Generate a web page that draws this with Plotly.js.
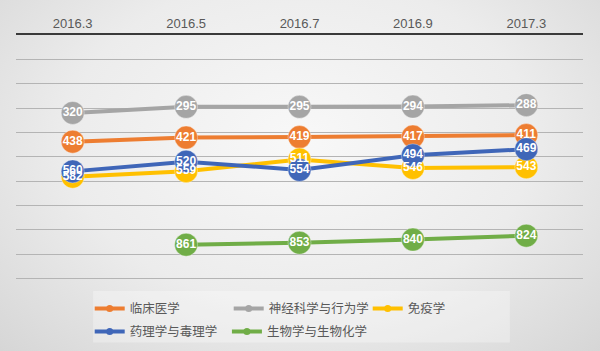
<!DOCTYPE html>
<html><head><meta charset="utf-8">
<script src="https://cdn.plot.ly/plotly-3.0.1.min.js"></script>
<style>
html,body{margin:0;padding:0;}
body{width:600px;height:351px;background:radial-gradient(ellipse at 50% 40%, #f8f8f8 0%, #ececec 55%, #d6d6d6 100%);}
#chart{width:600px;height:351px;}
</style></head><body>
<div id="chart"></div>
<script>
var categories = ['2016.3', '2016.5', '2016.7', '2016.9', '2017.3'];
var seriesNames = ['临床医学', '神经科学与行为学', '免疫学', '药理学与毒理学', '生物学与生物化学'];
var clinical = [438, 421, 419, 417, 411];
var neuro = [320, 295, 295, 294, 288];
var immuno = [582, 559, 511, 546, 543];
var pharma = [560, 520, 554, 494, 469];
var biochem = [null, 861, 853, 840, 824];
var seriesValues = [clinical, neuro, immuno, pharma, biochem];
var colors = ['#ED7D31', '#A5A5A5', '#FFC000', '#3F66B8', '#70AD47'];
var legendRow = ['legend', 'legend', 'legend', 'legend2', 'legend3'];

var traces = [];
var labelFont = 'Liberation Sans Narrow, Arial Narrow, Liberation Sans, sans-serif';
seriesValues.forEach(function(vals, i){
  traces.push({
    x: categories, y: vals, type: 'scatter', mode: 'lines+markers',
    line: {color: colors[i], width: 4},
    marker: {color: colors[i], size: 23, line: {color: 'rgba(255,255,255,0.35)', width: 1}},
    showlegend: false, hoverinfo: 'skip', cliponaxis: false
  });
});
seriesValues.forEach(function(vals, i){
  traces.push({
    x: categories, y: vals, type: 'scatter', mode: 'text',
    text: vals.map(function(v){ return v === null ? '' : String(v); }),
    textposition: 'middle center',
    textfont: {color: '#ffffff', size: 12, family: labelFont, weight: 'bold'},
    showlegend: false, hoverinfo: 'skip', cliponaxis: false
  });
});
seriesNames.forEach(function(name, i){
  traces.push({
    x: [null], y: [null], type: 'scatter', mode: 'lines+markers', name: name,
    line: {color: colors[i], width: 4},
    marker: {color: colors[i], size: 7},
    showlegend: true, legend: legendRow[i]
  });
});

var legendBase = {
  orientation: 'h', xanchor: 'left', yanchor: 'top',
  bgcolor: 'rgba(0,0,0,0)',
  font: {family: 'Noto Sans CJK SC, sans-serif', size: 12.5, color: '#595959'},
  itemwidth: 30, tracegroupgap: 0
};
var legend1 = Object.assign({}, legendBase, {x: 0.13, y: -0.057, entrywidth: 94, entrywidthmode: 'pixels'});
var legend2 = Object.assign({}, legendBase, {x: 0.13, y: -0.150});
var legend3 = Object.assign({}, legendBase, {x: 0.372, y: -0.150});

var layout = {
  width: 600, height: 351,
  margin: {l: 16, r: 17, t: 35, b: 71, pad: 0, autoexpand: false},
  paper_bgcolor: 'rgba(0,0,0,0)', plot_bgcolor: 'rgba(0,0,0,0)',
  showlegend: true,
  xaxis: {
    type: 'category', side: 'top', range: [-0.5, 4.5],
    showline: true, linecolor: '#3a3a3a', linewidth: 2, mirror: false,
    showgrid: false, zeroline: false, ticks: '',
    tickfont: {family: labelFont, size: 13, color: '#595959'},
    fixedrange: true
  },
  yaxis: {
    range: [1006, 0], dtick: 100, tick0: 0,
    showticklabels: false, ticks: '',
    showgrid: true, gridcolor: '#b4b4b4', gridwidth: 1,
    zeroline: false, showline: false, fixedrange: true
  },
  legend: legend1,
  legend2: legend2,
  legend3: legend3,
  shapes: [{
    type: 'rect', xref: 'paper', yref: 'paper', layer: 'below',
    x0: 0.136, x1: 0.871, y0: -0.255, y1: -0.045,
    fillcolor: 'rgba(255,255,255,0.3)', line: {width: 0}
  }],
  font: {family: labelFont}
};
Plotly.newPlot('chart', traces, layout, {displayModeBar: false, staticPlot: true});
</script>
</body></html>
